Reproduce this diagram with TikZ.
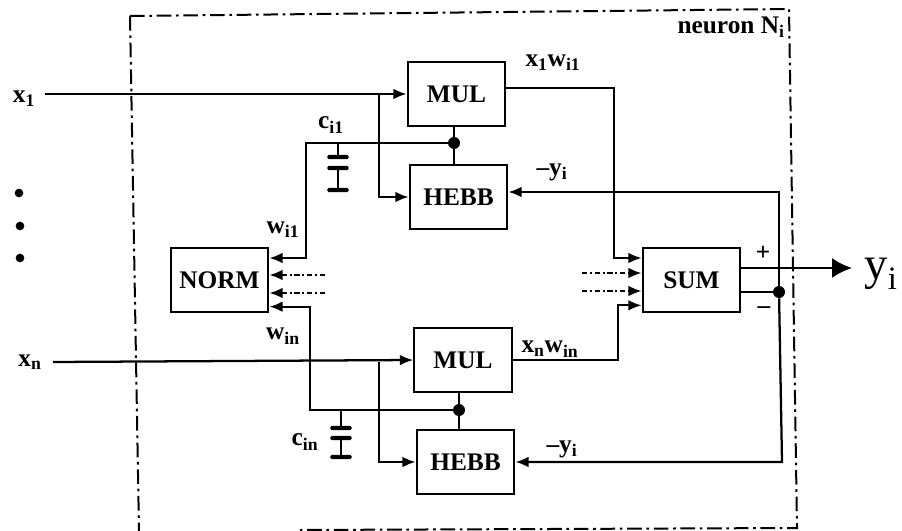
\documentclass[tikz,border=0pt]{standalone}
\usepackage{fontspec}
\setmainfont{Liberation Serif}
\usetikzlibrary{positioning,arrows.meta}
\newcommand{\sbs}[1]{\textsubscript{#1}}
\tikzset{
  block/.style={draw,line width=1.7pt,minimum width=73pt,minimum height=48pt,inner sep=0pt,font=\fontsize{19}{21}\selectfont\bfseries},
  wire/.style={line width=1.7pt},
  feed/.style={wire,-{Latex[length=10pt,width=8pt]}},
  stub/.style={feed,dash pattern=on 4pt off 2pt on 1.5pt off 2pt},
  frameline/.style={line width=1.5pt,dash pattern=on 11pt off 3.5pt on 2pt off 3.5pt},
  junction/.style={circle,fill,inner sep=0pt,minimum size=9pt},
  plate/.style={fill,rounded corners=1pt,inner sep=0pt,minimum width=16pt,minimum height=3.2pt},
  bullet/.style={circle,fill,inner sep=0pt,minimum size=6.5pt},
  lab/.style={inner sep=0pt,font=\fontsize{19}{21}\selectfont\bfseries}
}
\begin{document}
\begin{tikzpicture}[x=0.75pt,y=-0.75pt]
\useasboundingbox (0,0) rectangle (902,531);
% frame
\coordinate (f1) at (130,16); \coordinate (f2) at (789,9); \coordinate (f3) at (797,528);
\coordinate (f4) at (300,530); \coordinate (f5) at (139,531);
\draw[frameline] (f1)--(f2)--(f3)--(f4);
\draw[frameline] (f1)--(f5);
% blocks
\node[block] (mul1) at (456.5,94) {MUL};
\node[block] (hebb1) at (458.5,197) {HEBB};
\node[block] (norm) at (219.5,280) {NORM};
\node[block] (sum) at (691.5,280) {SUM};
\node[block] (mul2) at (463,360) {MUL};
\node[block] (hebb2) at (465.5,462) {HEBB};
% junctions
\node[junction] (j1) at (454,143) {};
\node[junction] (j2) at (459,410) {};
\node[junction] (j3) at (779,292) {};
\coordinate (in1) at (45,94); \coordinate (inn) at (53,362);
\coordinate (b1) at (379,94); \coordinate (bn) at (379,362);
\coordinate (t1) at (338,143); \coordinate (tn) at (340,410);
\coordinate (c1) at (779,192);
\coordinate (cn) at (782,462);
\coordinate (out) at (852,268);
% inputs
\draw[feed] (in1)--(mul1.west);
\draw[feed] (inn)--(mul2.west);
\draw[feed] (b1)--(hebb1.west -| b1)--(hebb1.west);
\draw[feed] (bn)--(hebb2.west -| bn)--(hebb2.west);
\draw[wire] (mul1.south -| j1)--(j1)--(hebb1.north -| j1);
\draw[wire] (mul2.south -| j2)--(j2)--(hebb2.north -| j2);
% weights
\coordinate (w1) at (306,143); \coordinate (wn) at (310,410);
\draw[feed] (j1)--(w1)--([yshift=16.5pt]norm.east -| w1)--([yshift=16.5pt]norm.east);
\draw[feed] (j2)--(wn)--([yshift=-20pt]norm.east -| wn)--([yshift=-20pt]norm.east);
\coordinate (d1) at (325,275); \coordinate (d2) at (325,293);
\draw[stub] (d1)--(d1 -| norm.east);
\draw[stub] (d2)--(d2 -| norm.east);
% capacitors
\node[plate] (p11) at (338,157) {}; \node[plate] (p12) at (338,168) {}; \node[plate] (p13) at (338,190) {};
\node[plate] (p21) at (341,428) {}; \node[plate] (p22) at (341,438) {}; \node[plate] (p23) at (341,457) {};
\draw[wire] (t1)--(p11); \draw[wire] (p12)--(p13);
\draw[wire] (tn)--(p21 |- tn)--(p21); \draw[wire] (p22)--(p23);
% to the sum
\coordinate (s1) at (614,88); \coordinate (sn) at (618,360);
\draw[feed] ([yshift=4.5pt]mul1.east)--(s1)--([yshift=16.5pt]sum.west -| s1)--([yshift=16.5pt]sum.west);
\draw[feed] (mul2.east)--(sn)--([yshift=-19pt]sum.west -| sn)--([yshift=-19pt]sum.west);
\coordinate (e1) at (582,273); \coordinate (e2) at (582,291);
\draw[stub] (e1)--(e1 -| sum.west);
\draw[stub] (e2)--(e2 -| sum.west);
% outputs
\draw[wire,-{Latex[length=15pt,width=15pt]}] (sum.east |- out)--(out);
\draw[wire] (sum.east |- j3)--(j3);
\draw[feed] (j3)--(c1)--(c1 -| hebb1.east);
\draw[feed] (j3)--(cn)--(cn -| hebb2.east);
% dots
\node[bullet] (dot1) at (19,193) {};
\node[bullet] (dot2) at (20,226) {};
\node[bullet] (dot3) at (20,258) {};
% labels
\node[lab] (lx1) at (24,99) {x\sbs{1}};
\node[lab] (lxn) at (30,362) {x\sbs{n}};
\node[lab] (lc1) at (331,125) {c\sbs{i1}};
\node[lab] (lcn) at (305,442) {c\sbs{in}};
\node[lab] (lw1) at (283,230) {w\sbs{i1}};
\node[lab] (lwn) at (283,336) {w\sbs{in}};
\node[lab] (lm1) at (553,63) {x\sbs{1}w\sbs{i1}};
\node[lab] (lmn) at (550,349) {x\sbs{n}w\sbs{in}};
\node[lab] (ly1) at (552,172) {–y\sbs{i}};
\node[lab] (lyn) at (562,449) {–y\sbs{i}};
\node[lab] (lp) at (763,253) {+};
\node[lab] (lm) at (764,310) {–};
\node[lab,anchor=east] (ln) at (785,27) {neuron N\sbs{i}};
\node[inner sep=0pt,font=\fontsize{35}{37}\selectfont] (ly) at (881,274) {y\sbs{i}};
\end{tikzpicture}
\end{document}
